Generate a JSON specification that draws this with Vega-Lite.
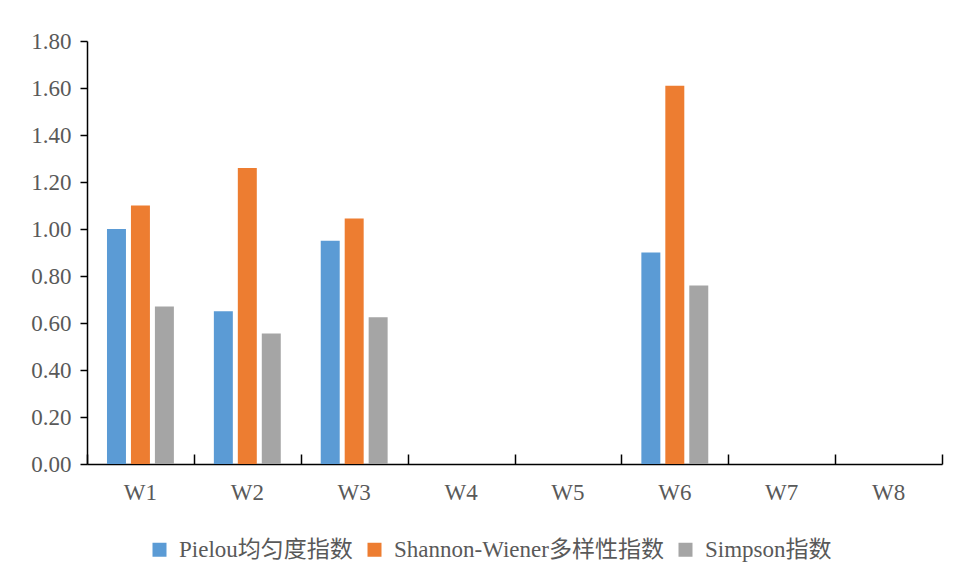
{
  "$schema": "https://vega.github.io/schema/vega-lite/v6.json",
  "width": 855,
  "height": 423,
  "autosize": {"type": "none"},
  "padding": {"left": 87, "top": 41, "right": 16, "bottom": 119},
  "background": "white",
  "config": {
    "view": {"stroke": null},
    "font": "'Liberation Serif', 'Times New Roman', serif"
  },
  "data": {
    "values": [
      {"site": "W1", "index": "Pielou均匀度指数", "value": 1.00},
      {"site": "W1", "index": "Shannon-Wiener多样性指数", "value": 1.10},
      {"site": "W1", "index": "Simpson指数", "value": 0.67},
      {"site": "W2", "index": "Pielou均匀度指数", "value": 0.65},
      {"site": "W2", "index": "Shannon-Wiener多样性指数", "value": 1.26},
      {"site": "W2", "index": "Simpson指数", "value": 0.555},
      {"site": "W3", "index": "Pielou均匀度指数", "value": 0.95},
      {"site": "W3", "index": "Shannon-Wiener多样性指数", "value": 1.045},
      {"site": "W3", "index": "Simpson指数", "value": 0.625},
      {"site": "W4", "index": "Pielou均匀度指数", "value": 0},
      {"site": "W4", "index": "Shannon-Wiener多样性指数", "value": 0},
      {"site": "W4", "index": "Simpson指数", "value": 0},
      {"site": "W5", "index": "Pielou均匀度指数", "value": 0},
      {"site": "W5", "index": "Shannon-Wiener多样性指数", "value": 0},
      {"site": "W5", "index": "Simpson指数", "value": 0},
      {"site": "W6", "index": "Pielou均匀度指数", "value": 0.90},
      {"site": "W6", "index": "Shannon-Wiener多样性指数", "value": 1.61},
      {"site": "W6", "index": "Simpson指数", "value": 0.76},
      {"site": "W7", "index": "Pielou均匀度指数", "value": 0},
      {"site": "W7", "index": "Shannon-Wiener多样性指数", "value": 0},
      {"site": "W7", "index": "Simpson指数", "value": 0},
      {"site": "W8", "index": "Pielou均匀度指数", "value": 0},
      {"site": "W8", "index": "Shannon-Wiener多样性指数", "value": 0},
      {"site": "W8", "index": "Simpson指数", "value": 0}
    ]
  },
  "encoding": {
    "xOffset": {
      "field": "index",
      "type": "nominal",
      "sort": null,
      "scale": {"paddingInner": 0.208, "paddingOuter": 0.834}
    },
    "y": {
      "field": "value",
      "type": "quantitative",
      "scale": {"domain": [0, 1.8], "nice": false},
      "axis": {
        "title": null,
        "values": [0, 0.2, 0.4, 0.6, 0.8, 1.0, 1.2, 1.4, 1.6, 1.8],
        "format": ".2f",
        "grid": false,
        "domainColor": "#000000",
        "domainWidth": 1.5,
        "tickColor": "#000000",
        "tickWidth": 1.5,
        "tickSize": 7,
        "labelPadding": 9,
        "labelFont": "'Liberation Serif', 'Times New Roman', serif",
        "labelFontSize": 23,
        "labelColor": "#595959"
      }
    },
    "color": {
      "field": "index",
      "type": "nominal",
      "sort": null,
      "scale": {
        "domain": ["Pielou均匀度指数", "Shannon-Wiener多样性指数", "Simpson指数"],
        "range": ["#5B9BD5", "#ED7D31", "#A5A5A5"]
      },
      "legend": {
        "title": null,
        "orient": "none",
        "direction": "horizontal",
        "legendX": 61,
        "legendY": 497,
        "symbolType": "square",
        "symbolSize": 196,
        "symbolStrokeWidth": 0,
        "labelFont": "'Liberation Serif', 'Times New Roman', 'Noto Sans CJK SC', serif",
        "labelFontSize": 23,
        "labelColor": "#595959",
        "labelOffset": 8,
        "columnPadding": 10,
        "labelLimit": 500
      }
    }
  },
  "layer": [
    {
      "mark": {"type": "bar"},
      "encoding": {
        "x": {
          "field": "site",
          "type": "nominal",
          "sort": null,
          "scale": {"paddingInner": 0, "paddingOuter": 0},
          "axis": {
            "orient": "bottom",
            "title": null,
            "labelAngle": 0,
            "ticks": false,
            "domainColor": "#000000",
            "domainWidth": 1.5,
            "labelPadding": 17,
            "labelFont": "'Liberation Serif', 'Times New Roman', serif",
            "labelFontSize": 23,
            "labelColor": "#595959"
          }
        }
      }
    },
    {
      "mark": {"type": "bar", "opacity": 0},
      "encoding": {
        "x": {
          "field": "site",
          "type": "nominal",
          "sort": null,
          "axis": {
            "orient": "top",
            "offset": -423,
            "title": null,
            "labels": false,
            "domain": false,
            "tickBand": "extent",
            "tickColor": "#000000",
            "tickWidth": 1.5,
            "tickSize": 10
          }
        }
      }
    }
  ],
  "resolve": {"axis": {"x": "independent"}}
}
